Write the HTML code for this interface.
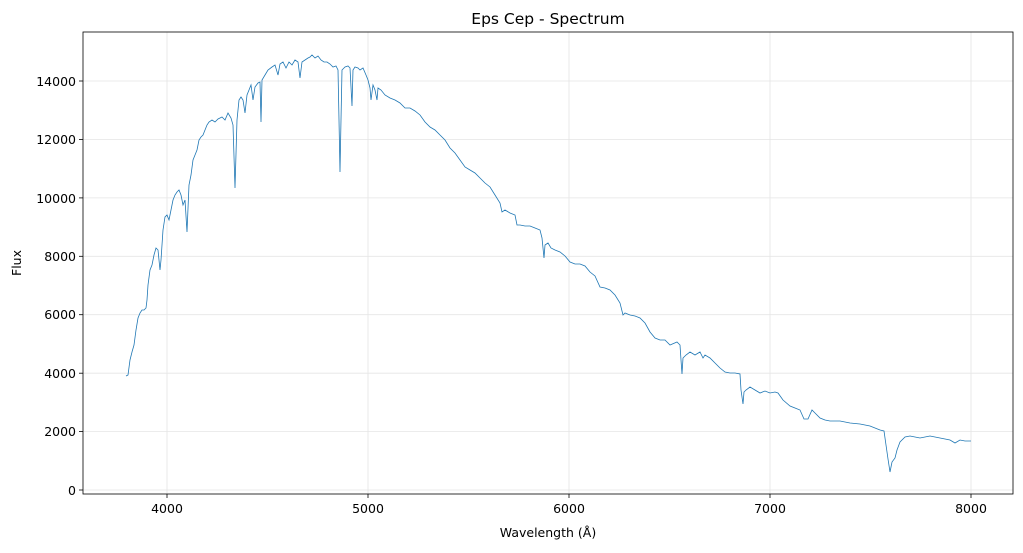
<!DOCTYPE html>
<html><head><style>
body{margin:0;background:#fff;font-family:"DejaVu Sans",sans-serif;}
</style></head><body>
<svg width="1023" height="549" xmlns="http://www.w3.org/2000/svg" font-family="DejaVu Sans, sans-serif">
<rect width="1023" height="549" fill="#fff"/>
<g stroke="#e5e5e5" stroke-width="0.8">
<line x1="167" y1="32" x2="167" y2="494"/><line x1="368" y1="32" x2="368" y2="494"/><line x1="569" y1="32" x2="569" y2="494"/><line x1="770" y1="32" x2="770" y2="494"/><line x1="971" y1="32" x2="971" y2="494"/>
<line x1="83" y1="490" x2="1013" y2="490"/><line x1="83" y1="431.6" x2="1013" y2="431.6"/><line x1="83" y1="373.2" x2="1013" y2="373.2"/><line x1="83" y1="314.7" x2="1013" y2="314.7"/><line x1="83" y1="256.3" x2="1013" y2="256.3"/><line x1="83" y1="197.9" x2="1013" y2="197.9"/><line x1="83" y1="139.5" x2="1013" y2="139.5"/><line x1="83" y1="81" x2="1013" y2="81"/>
</g>
<polyline fill="none" stroke="#1f77b4" stroke-width="0.8" points="126,376 128,375 130,360 132,352 134,345 136,330 138,318 140,313 142,310 144,310 146,308 147,300 148,285 150,270 152,265 154,255 156,248 158,250 160,270 161,260 163,230 165,217 167,215 169,220 171,210 173,200 175,195 177,192 179,190 181,195 183,205 185,200 187,232 189,185 191,175 193,160 195,155 197,150 199,140 201,137 203,135 205,130 207,125 209,122 212,120 215,122 218,119 222,117 225,120 228,113 231,118 233,125 235,188 237,120 239,100 241,97 243,100 245,113 247,95 249,90 251,85 253,100 255,87 258,83 260,82 261,122 262,80 265,75 268,70 272,67 275,65 278,75 280,64 283,62 286,68 289,62 292,65 295,60 298,62 300,78 302,62 305,60 308,58 310,57 312,55 315,58 318,56 321,60 324,62 327,62 330,64 333,67 336,66 338,70 339,120 340,172 341,120 342,70 345,67 348,66 350,68 352,106 353,70 355,67 358,68 360,70 363,68 366,75 368,80 370,88 371,100 373,85 375,90 377,100 378,88 381,90 385,95 390,98 395,100 400,103 405,108 410,108 415,111 420,115 425,122 430,127 435,130 440,135 445,140 450,148 455,153 460,160 465,167 470,170 475,173 480,178 485,183 490,187 495,195 500,203 502,212 505,210 510,213 515,215 517,225 520,225 525,226 530,226 535,228 540,230 542,238 544,258 545,245 548,243 551,248 555,250 560,252 565,256 570,262 575,264 580,264 585,266 590,272 595,276 600,287 605,288 610,290 615,295 620,303 623,315 625,313 630,315 635,316 640,318 645,323 650,332 655,338 660,340 665,340 670,345 677,342 680,345 681,360 682,374 683,358 686,355 690,352 695,355 700,352 703,358 705,355 710,358 715,363 720,368 725,372 730,373 735,373 740,374 741,390 743,404 744,392 746,390 750,387 755,390 760,393 765,391 770,393 775,392 778,393 783,400 790,406 795,408 800,410 804,419 808,419 812,410 815,413 820,418 825,420 830,421 840,421 850,423 860,424 870,426 880,430 884,431 886,445 888,459 890,472 892,462 895,458 897,450 900,442 905,437 910,436 920,438 930,436 940,438 950,440 955,443 960,440 965,441 971,441"/>
<rect x="83" y="32" width="930" height="462" fill="none" stroke="#000" stroke-width="0.8"/>
<g stroke="#000" stroke-width="0.8">
<line x1="167" y1="494" x2="167" y2="498"/><line x1="368" y1="494" x2="368" y2="498"/><line x1="569" y1="494" x2="569" y2="498"/><line x1="770" y1="494" x2="770" y2="498"/><line x1="971" y1="494" x2="971" y2="498"/>
<line x1="79" y1="490" x2="83" y2="490"/><line x1="79" y1="431.6" x2="83" y2="431.6"/><line x1="79" y1="373.2" x2="83" y2="373.2"/><line x1="79" y1="314.7" x2="83" y2="314.7"/><line x1="79" y1="256.3" x2="83" y2="256.3"/><line x1="79" y1="197.9" x2="83" y2="197.9"/><line x1="79" y1="139.5" x2="83" y2="139.5"/><line x1="79" y1="81" x2="83" y2="81"/>
</g>
<g font-size="12.5" fill="#000" text-anchor="middle">
<text x="167" y="513">4000</text><text x="368" y="513">5000</text><text x="569" y="513">6000</text><text x="770" y="513">7000</text><text x="971" y="513">8000</text>
</g>
<g font-size="12.5" fill="#000" text-anchor="end">
<text x="76" y="495">0</text><text x="76" y="436">2000</text><text x="76" y="378">4000</text><text x="76" y="319">6000</text><text x="76" y="261">8000</text><text x="76" y="203">10000</text><text x="76" y="144">12000</text><text x="76" y="86">14000</text>
</g>
<text x="548" y="537" font-size="12.5" text-anchor="middle">Wavelength (Å)</text>
<text x="21" y="263" font-size="12.5" text-anchor="middle" transform="rotate(-90 21 263)">Flux</text>
<text x="548" y="24" font-size="15.5" text-anchor="middle">Eps Cep - Spectrum</text>
</svg>
</body></html>
